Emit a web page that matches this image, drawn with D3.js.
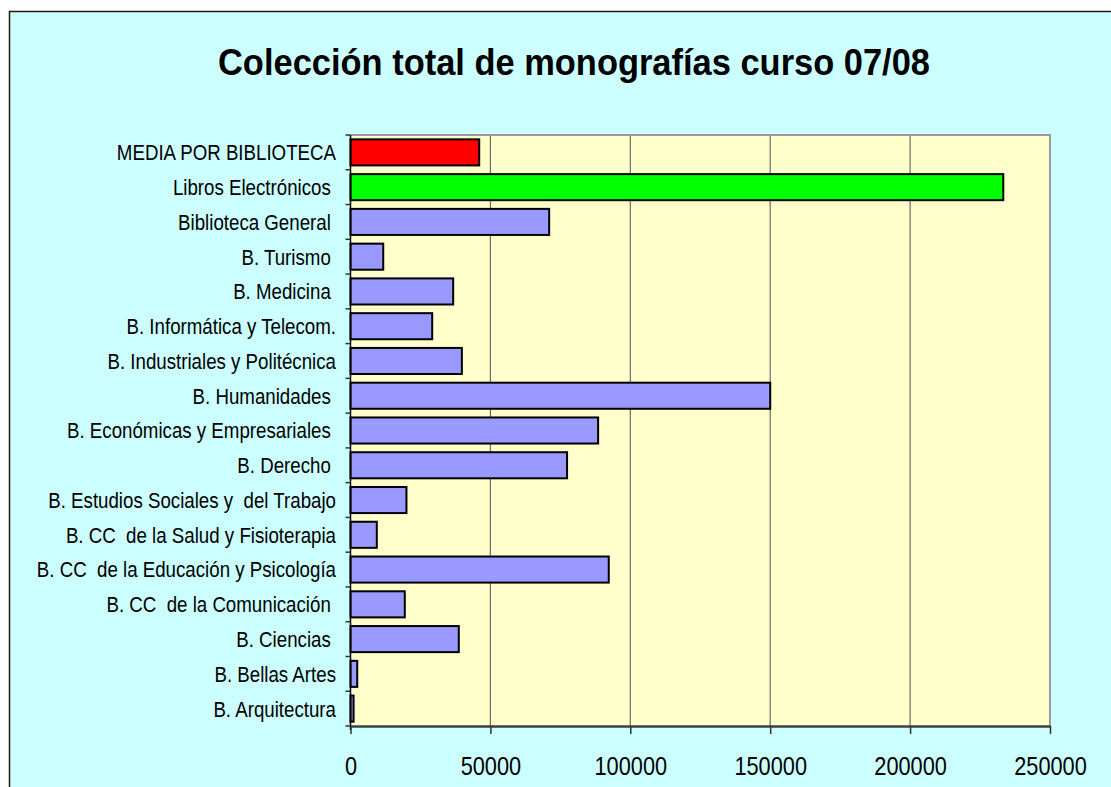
<!DOCTYPE html>
<html>
<head>
<meta charset="utf-8">
<script src="https://cdn.jsdelivr.net/npm/d3@7"></script>
<style>
  html, body { margin: 0; padding: 0; background: #ffffff; }
  svg { display: block; }
  text { font-family: "Liberation Sans", Arial, sans-serif; white-space: pre; }
</style>
</head>
<body>
<svg id="chart" width="1111" height="787"></svg>
<script>
// ---- data ----
const categories = [
  "MEDIA POR BIBLIOTECA",
  "Libros Electrónicos ",
  "Biblioteca General ",
  "B. Turismo ",
  "B. Medicina ",
  "B. Informática y Telecom.",
  "B. Industriales y Politécnica",
  "B. Humanidades ",
  "B. Económicas y Empresariales ",
  "B. Derecho ",
  "B. Estudios Sociales y  del Trabajo",
  "B. CC  de la Salud y Fisioterapia",
  "B. CC  de la Educación y Psicología",
  "B. CC  de la Comunicación ",
  "B. Ciencias ",
  "B. Bellas Artes",
  "B. Arquitectura"
];
const values = [
  46000, 233300, 71000, 11700, 36700, 29200, 39800, 150000,
  88500, 77400, 20000, 9400, 92300, 19400, 38700, 2400, 1100
];
const xTicks = [0, 50000, 100000, 150000, 200000, 250000];
const title = "Colección total de monografías curso 07/08";

// ---- layout ----
const W = 1111, H = 787;
const plot = { left: 350.5, right: 1050, top: 135, bottom: 726 };

const svg = d3.select("#chart");

// outer chart area
svg.append("rect")
  .attr("x", 9.5).attr("y", 11.5)
  .attr("width", W + 20).attr("height", H + 20)
  .attr("fill", "#CCFFFF")
  .attr("stroke", "#1a1a1a").attr("stroke-width", 1.5);

// title
const t = svg.append("text")
  .attr("x", 574).attr("y", 75)
  .attr("text-anchor", "middle")
  .attr("font-size", 37).attr("font-weight", "bold")
  .attr("fill", "#000")
  .text(title);
t.attr("textLength", 712).attr("lengthAdjust", "spacingAndGlyphs");

// scales
const x = d3.scaleLinear().domain([0, 250000]).range([plot.left, plot.right]);
const y = d3.scaleBand().domain(categories).range([plot.top, plot.bottom])
  .paddingInner(0.25).paddingOuter(0.125);

// plot area background
svg.append("rect")
  .attr("x", plot.left).attr("y", plot.top)
  .attr("width", plot.right - plot.left).attr("height", plot.bottom - plot.top)
  .attr("fill", "#FFFFCC");

// gridlines
svg.append("g").selectAll("line").data(xTicks.slice(1)).join("line")
  .attr("x1", d => x(d)).attr("x2", d => x(d))
  .attr("y1", plot.top).attr("y2", plot.bottom)
  .attr("stroke", "#6b6b6b").attr("stroke-width", 1.2);

// plot border top / right
svg.append("path")
  .attr("d", `M${plot.left},${plot.top}H${plot.right}V${plot.bottom}`)
  .attr("fill", "none").attr("stroke", "#9a9a9a").attr("stroke-width", 2);

// bars
const colorFor = (c) => c.startsWith("MEDIA") ? "#FF0000" : (c.startsWith("Libros") ? "#00FF00" : "#9999FF");
svg.append("g").selectAll("rect").data(categories).join("rect")
  .attr("x", x(0))
  .attr("y", d => y(d))
  .attr("width", (d, i) => x(values[i]) - x(0))
  .attr("height", y.bandwidth())
  .attr("fill", d => colorFor(d))
  .attr("stroke", "#000").attr("stroke-width", 2);

// y axis line and boundary ticks
const step = y.step();
const gy = svg.append("g");
gy.append("line")
  .attr("x1", plot.left).attr("x2", plot.left)
  .attr("y1", plot.top).attr("y2", plot.bottom + 4)
  .attr("stroke", "#000").attr("stroke-width", 1.5);
gy.selectAll("line.tk").data(d3.range(categories.length + 1)).join("line")
  .attr("class", "tk")
  .attr("x1", plot.left - 5).attr("x2", plot.left)
  .attr("y1", i => plot.top + i * step).attr("y2", i => plot.top + i * step)
  .attr("stroke", "#333").attr("stroke-width", 1.5);

// category labels
gy.selectAll("g.lab").data(categories).join("g")
  .attr("class", "lab")
  .attr("transform", d => `translate(336,${y(d) + y.bandwidth() / 2}) scale(0.85,1)`)
  .append("text")
  .attr("text-anchor", "end")
  .attr("dy", "0.36em")
  .attr("font-size", 22)
  .attr("fill", "#000")
  .text(d => d);

// x axis
const gx = svg.append("g")
  .attr("transform", `translate(0,${plot.bottom})`)
  .call(d3.axisBottom(x).tickValues(xTicks).tickFormat(d3.format("d")).tickSize(8).tickSizeOuter(0));
gx.select(".domain").attr("stroke", "#404040").attr("stroke-width", 2.5);
gx.selectAll(".tick line").attr("stroke", "#333").attr("stroke-width", 1.5);
gx.selectAll(".tick text")
  .attr("y", 49.5).attr("dy", 0)
  .attr("font-size", 25)
  .attr("font-family", "Liberation Sans, Arial, sans-serif")
  .attr("fill", "#000")
  .attr("transform", "scale(0.87,1)");
</script>
</body>
</html>
